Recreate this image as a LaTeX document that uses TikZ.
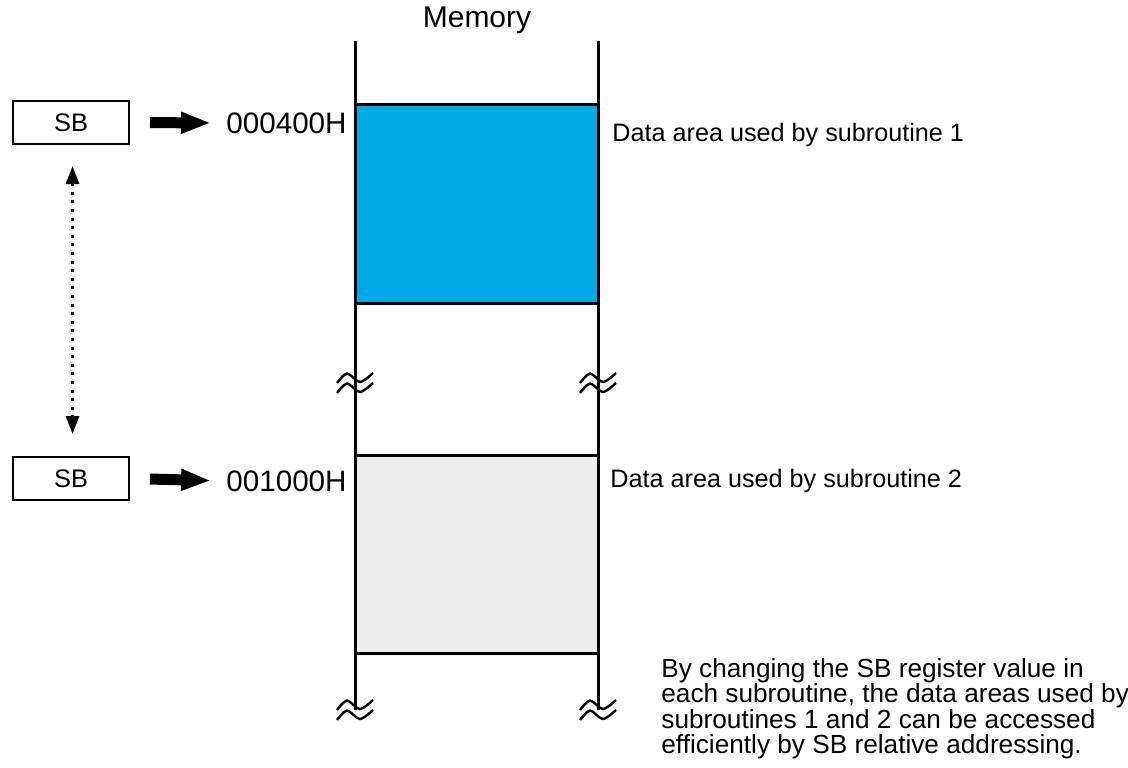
\documentclass[tikz,border=0pt]{standalone}
\usepackage{fontspec}
\setmainfont{Liberation Sans}
\usetikzlibrary{arrows.meta}
\definecolor{areablue}{RGB}{0,170,230}
\definecolor{areagray}{RGB}{238,238,238}

\begin{document}
\begin{tikzpicture}[x=0.5pt,y=-0.5pt,
  reg/.style={draw,line width=1pt,minimum width=58pt,minimum height=21.5pt,inner sep=0pt,font=\fontsize{12.7}{15}\selectfont},
  addr/.style={inner sep=0pt,font=\fontsize{14.8}{17}\selectfont},
  note/.style={inner sep=0pt,font=\fontsize{12.6}{15}\selectfont},
  wall/.style={line width=1.5pt},
  wave/.style={line width=1.2pt},
  fat/.style={-{Triangle[length=15pt,width=10pt]},line width=5.5pt},
  swap/.style={{Triangle[length=9pt,width=6.5pt]}-{Triangle[length=9pt,width=6.5pt]},line width=1.5pt,dash pattern=on 1.5pt off 2.8pt}]
  \useasboundingbox (0,0) rectangle (1128,767);
  % memory column
  \node[font=\fontsize{15}{18}\selectfont] (mem) at (477,20) {Memory};
  \draw[wall,fill=areablue] (355,104) rectangle (598,303);
  \draw[wall,fill=areagray] (355,455) rectangle (598,653);
  \draw[wall] (355,41) -- (355,710);
  \draw[wall] (598,41) -- (598,710);
  % breaks
  \foreach \x/\y in {355/383,598/383,355/710,598/710}
    \foreach \d in {-5,5}
      \draw[wave,shift={(\x,\y+\d)}] plot[smooth] coordinates {(-18,5) (-8,-4.5) (5,4) (18,-5)};
  % SB register
  \node[reg] (sb1) at (71,122.5) {SB};
  \node[reg] (sb2) at (71,478.5) {SB};
  \node[addr,anchor=east] (ad1) at (347,123) {000400H};
  \node[addr,anchor=east] (ad2) at (347,481) {001000H};
  \draw[fat,shorten <=10pt,shorten >=7.5pt] (sb1.east) -- (ad1.west);
  \draw[fat,shorten <=10pt,shorten >=7.5pt] (sb2.east) -- (ad2.west);
  \draw[swap,shorten <=10.5pt,shorten >=11pt] ([xshift=0.75pt]sb1.south) -- ([xshift=0.75pt]sb2.north);
  % notes
  \node[note,anchor=base west] (area1) at (612,141) {Data area used by subroutine 1};
  \node[note,anchor=base west] (area2) at (610,487) {Data area used by subroutine 2};
  \node[inner sep=0pt,anchor=north west,align=left,font=\fontsize{13.1}{12.75}\selectfont] (txt) at (661,658)
    {By changing the SB register value in\\each subroutine, the data areas used by\\subroutines 1 and 2 can be accessed\\efficiently by SB relative addressing.};
\end{tikzpicture}
\end{document}
